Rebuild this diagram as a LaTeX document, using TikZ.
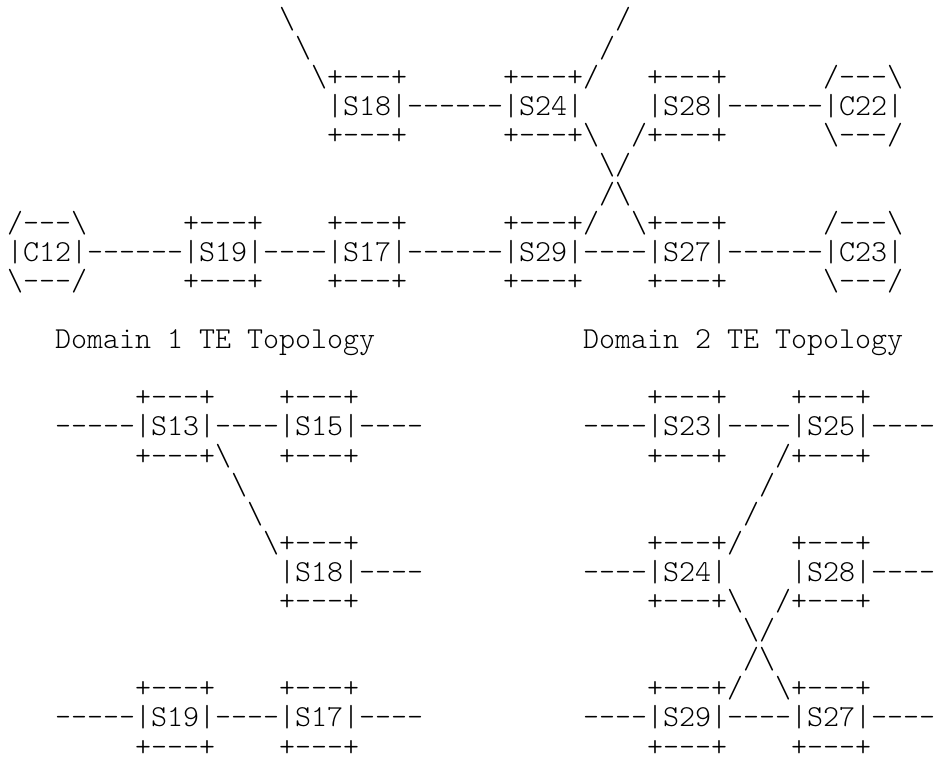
\documentclass[tikz,border=0pt]{standalone}
\usepackage{fontspec}
\setmonofont{lmmonolt10-regular.otf}

\newcommand{\bsl}{\textbackslash}
\tikzset{ascii/.style={font=\ttfamily\fontsize{30.48}{30}\selectfont, inner sep=0pt, outer sep=0pt, anchor=base west}}
% one run of characters: name, column, line, text
\newcommand{\ascrun}[4]{\node[ascii] (#1) at ({7+16*#2},{28.5+29.1*(#3-1)}) {#4};}

\begin{document}
\begin{tikzpicture}[x=1pt,y=-1pt]
            \useasboundingbox (0,0) rectangle (934,765);

            % Links into S18 and S24
            \ascrun{u1a}{17}{1}{\bsl}
            \ascrun{u1b}{38}{1}{/}
            \ascrun{u2a}{18}{2}{\bsl}
            \ascrun{u2b}{37}{2}{/}

            % S18, S24, S28, C22
            \ascrun{u3a}{19}{3}{\bsl+---+}
            \ascrun{u3b}{31}{3}{+---+/}
            \ascrun{u3c}{40}{3}{+---+}
            \ascrun{u3d}{51}{3}{/---\bsl}
            \ascrun{u4a}{20}{4}{|S18|------|S24|}
            \ascrun{u4b}{40}{4}{|S28|------|C22|}
            \ascrun{u5a}{20}{5}{+---+}
            \ascrun{u5b}{31}{5}{+---+\bsl}
            \ascrun{u5c}{39}{5}{/+---+}
            \ascrun{u5d}{51}{5}{\bsl---/}

            % Crossing links
            \ascrun{u6}{37}{6}{\bsl/}
            \ascrun{u7}{37}{7}{/\bsl}

            % Chain C12 to C23
            \ascrun{u8a}{0}{8}{/---\bsl}
            \ascrun{u8b}{11}{8}{+---+}
            \ascrun{u8c}{20}{8}{+---+}
            \ascrun{u8d}{31}{8}{+---+/}
            \ascrun{u8e}{39}{8}{\bsl+---+}
            \ascrun{u8f}{51}{8}{/---\bsl}
            \ascrun{u9}{0}{9}{|C12|------|S19|----|S17|------|S29|----|S27|------|C23|}
            \ascrun{u10a}{0}{10}{\bsl---/}
            \ascrun{u10b}{11}{10}{+---+}
            \ascrun{u10c}{20}{10}{+---+}
            \ascrun{u10d}{31}{10}{+---+}
            \ascrun{u10e}{40}{10}{+---+}
            \ascrun{u10f}{51}{10}{\bsl---/}

            % Titles
            \ascrun{dom1}{3}{12}{Domain 1 TE Topology}
            \ascrun{dom2}{36}{12}{Domain 2 TE Topology}

            % Domain 1
            \ascrun{a14a}{8}{14}{+---+}
            \ascrun{a14b}{17}{14}{+---+}
            \ascrun{a15}{3}{15}{-----|S13|----|S15|----}
            \ascrun{a16a}{8}{16}{+---+\bsl}
            \ascrun{a16b}{17}{16}{+---+}
            \ascrun{a17}{14}{17}{\bsl}
            \ascrun{a18}{15}{18}{\bsl}
            \ascrun{a19}{16}{19}{\bsl+---+}
            \ascrun{a20}{17}{20}{|S18|----}
            \ascrun{a21}{17}{21}{+---+}
            \ascrun{a24a}{8}{24}{+---+}
            \ascrun{a24b}{17}{24}{+---+}
            \ascrun{a25}{3}{25}{-----|S19|----|S17|----}
            \ascrun{a26a}{8}{26}{+---+}
            \ascrun{a26b}{17}{26}{+---+}

            % Domain 2
            \ascrun{b14a}{40}{14}{+---+}
            \ascrun{b14b}{49}{14}{+---+}
            \ascrun{b15}{36}{15}{----|S23|----|S25|----}
            \ascrun{b16a}{40}{16}{+---+}
            \ascrun{b16b}{48}{16}{/+---+}
            \ascrun{b17}{47}{17}{/}
            \ascrun{b18}{46}{18}{/}
            \ascrun{b19a}{40}{19}{+---+/}
            \ascrun{b19b}{49}{19}{+---+}
            \ascrun{b20a}{36}{20}{----|S24|}
            \ascrun{b20b}{49}{20}{|S28|----}
            \ascrun{b21a}{40}{21}{+---+\bsl}
            \ascrun{b21b}{48}{21}{/+---+}
            \ascrun{b22}{46}{22}{\bsl/}
            \ascrun{b23}{46}{23}{/\bsl}
            \ascrun{b24a}{40}{24}{+---+/}
            \ascrun{b24b}{48}{24}{\bsl+---+}
            \ascrun{b25}{36}{25}{----|S29|----|S27|----}
            \ascrun{b26a}{40}{26}{+---+}
            \ascrun{b26b}{49}{26}{+---+}

        \end{tikzpicture}
\end{document}
